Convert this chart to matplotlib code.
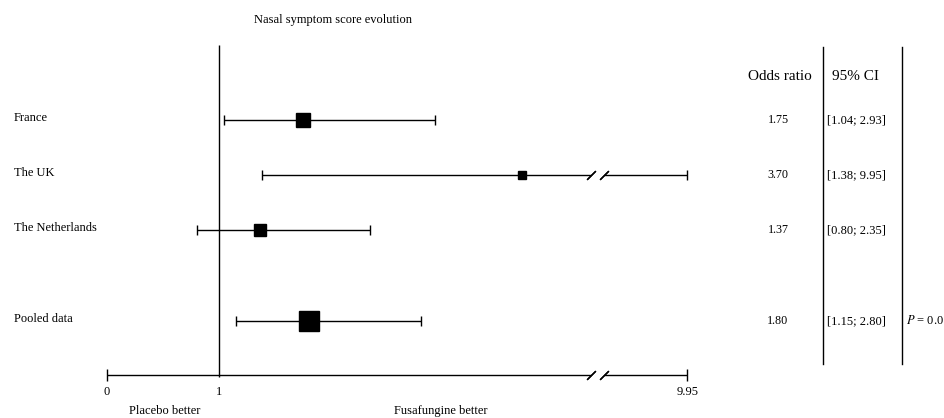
import numpy as np
import matplotlib
matplotlib.use('Agg')
import matplotlib.pyplot as plt

# data
countries = ['France', 'The UK', 'The Netherlands', 'Pooled data']
odds_ratio = [1.75, 3.70, 1.37, 1.80]
ci_low = [1.04, 1.38, 0.80, 1.15]
ci_high = [2.93, 9.95, 2.35, 2.80]
or_text = ['1.75', '3.70', '1.37', '1.80']
ci_text = ['[1.04; 2.93]', '[1.38; 9.95]', '[0.80; 2.35]', '[1.15; 2.80]']
box_size = [9.5, 5.5, 8.8, 13.8]   # marker size (weight) in points
axis_ticks = [0, 1, 9.95]
axis_ticklabels = ['0', '1', '9.95']
p_text = '$P$ = 0.01'

# layout (pixel rows from top of the 945x418 image)
W, H = 945, 418
row_y = [120, 175, 230, 321]
axis_y = 375

# broken x axis: linear up to 4.32, gap, resumes at 9.21
brk_lo, brk_hi = 4.32, 9.21
def fwd(v):
    return np.interp(v, [-10, brk_lo, brk_hi, 30], [-10, 4.32, 4.44, 25.23])
def inv(u):
    return np.interp(u, [-10, 4.32, 4.44, 25.23], [-10, brk_lo, brk_hi, 30])

plt.rcParams['font.family'] = ['Liberation Serif', 'DejaVu Serif']
plt.rcParams['mathtext.fontset'] = 'stix'

fig = plt.figure(figsize=(W / 100, H / 100), dpi=100)
ax = fig.add_axes([0, 0, 1, 1])
ax.set_xscale('function', functions=(fwd, inv))
ax.set_xlim(-0.955, 12.25)
ax.set_ylim(H, 0)
ax.axis('off')

def fx(px):
    return px / W
def fy(py):
    return 1 - py / H

lw = 1.0
slash = dict(marker=(2, 2, -45), ms=9, mew=0.9, color='black', ls='none')

def segment(y, lo, hi):
    # horizontal line, split where it crosses the axis break
    if hi > brk_hi and lo < brk_lo:
        ax.hlines(y, lo, brk_lo, color='black', lw=lw)
        ax.hlines(y, brk_hi, hi, color='black', lw=lw)
        ax.plot([brk_lo, brk_hi], [y, y], **slash)
    else:
        ax.hlines(y, lo, hi, color='black', lw=lw)

# no-effect line at 1
ax.vlines(1, 45, 377, color='black', lw=lw)

for i, name in enumerate(countries):
    y = row_y[i]
    segment(y, ci_low[i], ci_high[i])
    ax.plot([ci_low[i], ci_high[i]], [y, y], ls='none', marker='|',
            ms=7.5, mew=1.0, color='black')
    ax.plot(odds_ratio[i], y, marker='s', ms=box_size[i], color='black')
    fig.text(fx(14), fy(y - 2), name, fontsize=9, va='center', ha='left')
    fig.text(fx(778), fy(y), or_text[i], fontsize=8.7, va='center', ha='center')
    fig.text(fx(827), fy(y), ci_text[i], fontsize=9, va='center', ha='left')

# x axis
segment(axis_y, 0, 9.95)
ax.plot([0, 9.95], [axis_y, axis_y], ls='none', marker='|', ms=8.5,
        mew=1.0, color='black')
for t, lab in zip(axis_ticks, axis_ticklabels):
    ax.text(t, 392, lab, fontsize=9, ha='center', va='center')

fig.text(fx(165), fy(411), 'Placebo better', fontsize=9, ha='center', va='center')
fig.text(fx(441), fy(411), 'Fusafungine better', fontsize=9, ha='center', va='center')

fig.text(fx(333), fy(20), 'Nasal symptom score evolution', fontsize=9,
         ha='center', va='center')

# table columns
fig.text(fx(780), fy(76), 'Odds ratio', fontsize=11, ha='center', va='center')
fig.text(fx(832), fy(76), '95% CI', fontsize=11, ha='left', va='center')
for px in [823, 902]:
    fig.add_artist(plt.Line2D([fx(px), fx(px)], [fy(47), fy(364)],
                              color='black', lw=lw))
# the reference crops this label at the right edge too
fig.text(fx(906), fy(320), p_text, fontsize=9, ha='left', va='center')

fig.savefig('out.png', dpi=100)
